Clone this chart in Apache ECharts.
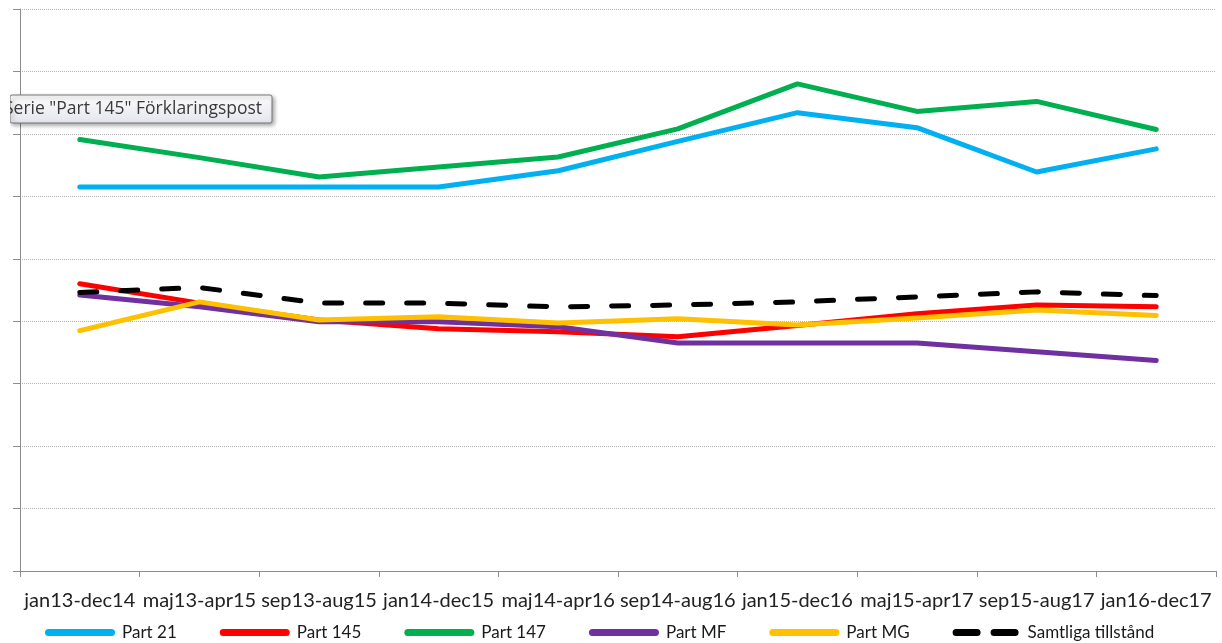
<!DOCTYPE html>
<html>
<head>
<meta charset="utf-8">
<script src="https://cdn.jsdelivr.net/npm/echarts@6/dist/echarts.min.js"></script>
<style>
  html, body { margin: 0; padding: 0; background: #fff; }
  #chart { width: 1222px; height: 643px; }
</style>
</head>
<body>
<div id="chart"></div>
<script>
// periods (rolling 24 months)
var categories = ['jan13-dec14', 'maj13-apr15', 'sep13-aug15', 'jan14-dec15', 'maj14-apr16',
  'sep14-aug16', 'jan15-dec16', 'maj15-apr17', 'sep15-aug17', 'jan16-dec17'];

// values (axis has no labels, scale in gridline units)
var part21  = [6.15, 6.15, 6.15, 6.15, 6.41, 6.88, 7.34, 7.10, 6.39, 6.76];
var part145 = [4.60, 4.29, 4.02, 3.88, 3.83, 3.75, 3.93, 4.12, 4.26, 4.23];
var part147 = [6.91, 6.62, 6.31, 6.47, 6.63, 7.08, 7.80, 7.36, 7.52, 7.07];
var partMF  = [4.42, 4.23, 3.99, 3.99, 3.91, 3.65, 3.65, 3.65, 3.51, 3.37];
var partMG  = [3.85, 4.31, 4.02, 4.07, 3.97, 4.04, 3.94, 4.05, 4.18, 4.09];
var samtliga = [4.46, 4.54, 4.29, 4.29, 4.23, 4.26, 4.31, 4.39, 4.47, 4.41];

var font = 'Lato, "Open Sans", sans-serif';

// legend icons: a thick rounded bar, and two short bars for the dashed one
var pill = 'path://M3.5,0H66.5A3.5,3.5,0,0,1,66.5,7H3.5A3.5,3.5,0,0,1,3.5,0Z';
var dash2 = 'path://M3.5,0H24.5A3.5,3.5,0,0,1,24.5,7H3.5A3.5,3.5,0,0,1,3.5,0Z' +
  'M41.5,0H62.5A3.5,3.5,0,0,1,62.5,7H41.5A3.5,3.5,0,0,1,41.5,0Z';

function line(name, data, color, dashed) {
  return {
    name: name,
    type: 'line',
    data: data,
    symbol: 'none',
    smooth: false,
    lineStyle: {
      color: color,
      width: 5,
      cap: 'round',
      join: 'round',
      type: dashed ? [17, 24] : 'solid'
    },
    itemStyle: { color: color }
  };
}

var chart = echarts.init(document.getElementById('chart'));
chart.setOption({
  animation: false,
  grid: { left: 20, right: 6, top: 9, bottom: 72 },
  xAxis: {
    type: 'category',
    data: categories,
    boundaryGap: true,
    axisLine: { lineStyle: { color: '#8c8c8c', width: 1 } },
    axisTick: { show: true, length: 6, lineStyle: { color: '#8c8c8c' } },
    axisLabel: { color: '#222', fontFamily: font, fontSize: 20, margin: 20, interval: 0 }
  },
  yAxis: {
    type: 'value',
    min: 0,
    max: 9,
    interval: 1,
    axisLine: { show: true, lineStyle: { color: '#8c8c8c', width: 1 } },
    axisTick: { show: true, length: 7, lineStyle: { color: '#8c8c8c' } },
    axisLabel: { show: false },
    splitLine: { lineStyle: { color: '#b4b4b4', type: [1, 1], width: 1 } }
  },
  legend: {
    bottom: -3,
    left: 40,
    itemWidth: 70,
    itemHeight: 7,
    itemGap: 43,
    textStyle: { color: '#1a1a1a', fontFamily: font, fontSize: 17, padding: [0, 0, 0, 2] },
    data: [
      { name: 'Part 21', icon: pill },
      { name: 'Part 145', icon: pill },
      { name: 'Part 147', icon: pill },
      { name: 'Part MF', icon: pill },
      { name: 'Part MG', icon: pill },
      { name: 'Samtliga tillstånd', icon: dash2 }
    ]
  },
  series: [
    line('Part 21', part21, '#00b0f0'),
    line('Part 145', part145, '#ff0000'),
    line('Part 147', part147, '#00b050'),
    line('Part MF', partMF, '#7030a0'),
    line('Part MG', partMG, '#ffc000'),
    line('Samtliga tillstånd', samtliga, '#000000', true)
  ],
  graphic: [
    {
      type: 'rect',
      z: 100,
      shape: { x: 10, y: 95, width: 262, height: 28, r: 2 },
      style: {
        fill: new echarts.graphic.LinearGradient(0, 0, 0, 1, [
          { offset: 0, color: '#fdfdfd' },
          { offset: 1, color: '#e4e5ee' }
        ]),
        stroke: '#767676',
        lineWidth: 1,
        shadowBlur: 4,
        shadowOffsetX: 2,
        shadowOffsetY: 2,
        shadowColor: 'rgba(0,0,0,0.35)'
      }
    },
    {
      type: 'text',
      z: 101,
      x: 4,
      y: 109,
      style: {
        text: 'Serie "Part 145" Förklaringspost',
        fill: '#3a3a3a',
        font: '17.5px "Open Sans", sans-serif',
        verticalAlign: 'middle'
      }
    },
    {
      type: 'rect',
      z: 102,
      shape: { x: 0, y: 92, width: 10, height: 34 },
      style: { fill: '#fff' }
    }
  ]
});
</script>
</body>
</html>
